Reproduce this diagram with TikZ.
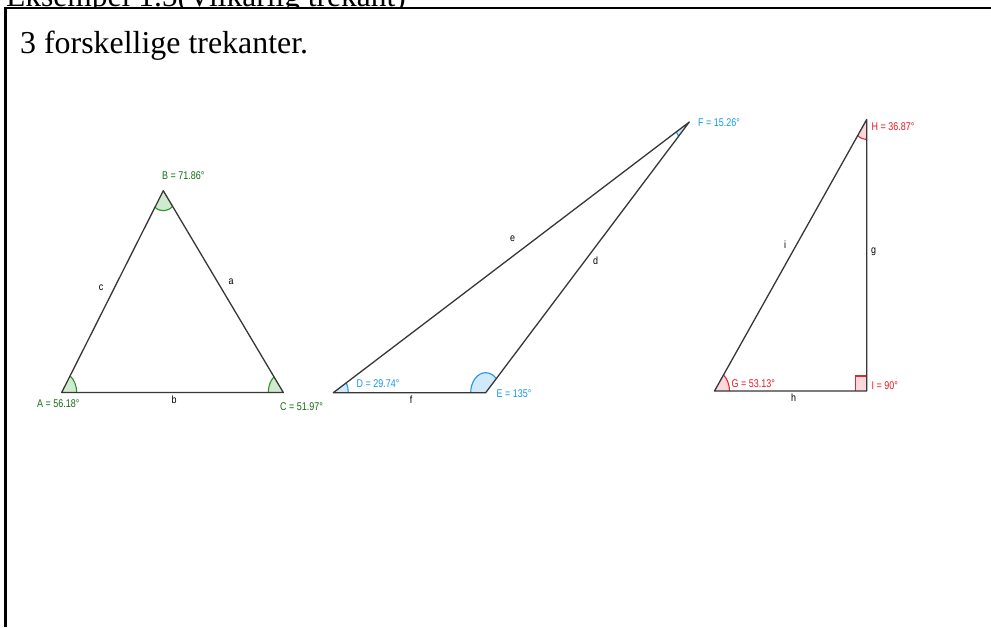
\documentclass[tikz,border=0pt]{standalone}
\usepackage{fontspec}
\setmainfont{Liberation Serif}
\setsansfont{Liberation Sans}
\usepackage{graphicx}
\definecolor{gtext}{RGB}{20,110,20}
\definecolor{garc}{RGB}{40,150,40}
\definecolor{gfill}{RGB}{208,234,208}
\definecolor{btext}{RGB}{20,155,240}
\definecolor{barc}{RGB}{30,150,235}
\definecolor{bfill}{RGB}{208,234,252}
\definecolor{rtext}{RGB}{232,24,36}
\definecolor{rarc}{RGB}{225,40,50}
\definecolor{rfill}{RGB}{252,216,218}
\definecolor{sidecol}{RGB}{55,55,55}
\newcommand{\lbl}[1]{\scalebox{0.8}[1]{\sffamily\fontsize{11.2}{12}\selectfont #1}}
\newcommand{\slbl}[1]{\scalebox{0.85}[1]{\sffamily\fontsize{10.5}{12}\selectfont #1}}
\newcommand{\sectorfill}[4]{\fill[#1] (#2) -- ++(#3:15pt and 20pt) arc[start angle=#3, end angle=#4, x radius=15pt, y radius=20pt] -- cycle;}
\newcommand{\sectorarc}[4]{\draw[#1, line width=1.1pt] (#2) ++(#3:15pt and 20pt) arc[start angle=#3, end angle=#4, x radius=15pt, y radius=20pt];}
\tikzset{
  sideline/.style={draw=sidecol, line width=1.3pt, line join=round},
  vlabel/.style={anchor=west, inner sep=0pt},
  sidelabel/.style={inner sep=0pt, text=black},
  frameline/.style={draw=black, line width=2.4pt}
}
\begin{document}
\begin{tikzpicture}[x=1pt,y=-1pt]
\useasboundingbox (0,0) rectangle (991,627);
\fill[white] (0,0) rectangle (991,627);
% cut-off heading above the frame
\begin{scope}
\clip (0,0) rectangle (991,7);
\node[anchor=base west, inner sep=0pt, font=\fontsize{31.5}{34}\selectfont] (head) at (6,6) {Eksempel 1.5(Vilkårlig trekant)};
\end{scope}
% frame
\coordinate (fTL) at (5.5,8);
\coordinate (fTR) at (991,8);
\coordinate (fBL) at (5.5,627);
\draw[frameline] (fBL) -- (fTL) -- (fTR);
\node[anchor=base west, inner sep=0pt, font=\fontsize{31.9}{34}\selectfont] (title) at (20,53) {3 forskellige trekanter.};

% vertices
\coordinate (A) at (61.7,392.5);
\coordinate (B) at (163.3,190.7);
\coordinate (C) at (283.3,392.5);
\coordinate (D) at (333.3,392.7);
\coordinate (E) at (485.7,392.7);
\coordinate (F) at (689.3,122);
\coordinate (G) at (714.5,391);
\coordinate (I) at (866.7,391);
\coordinate (H) at (866.7,119.5);

% sector fills
\sectorfill{gfill}{A}{0}{56.18}
\sectorfill{gfill}{B}{236.18}{308.03}
\sectorfill{gfill}{C}{128.03}{180}
\sectorfill{bfill}{D}{0}{29.74}
\sectorfill{bfill}{E}{45}{180}
\sectorfill{bfill}{F}{209.74}{225}
\sectorfill{rfill}{G}{0}{53.13}
\sectorfill{rfill}{H}{233.13}{270}
\fill[rfill] (I) rectangle ++(-11.5,-15);
% sector arcs
\sectorarc{garc}{A}{0}{56.18}
\sectorarc{garc}{B}{236.18}{308.03}
\sectorarc{garc}{C}{128.03}{180}
\sectorarc{barc}{D}{0}{29.74}
\sectorarc{barc}{E}{45}{180}
\sectorarc{barc}{F}{209.74}{225}
\sectorarc{rarc}{G}{0}{53.13}
\sectorarc{rarc}{H}{233.13}{270}
\draw[rarc, line width=1.1pt] (I) ++(-11.5,0) -- ++(0,-15) -- ++(11.5,0);

% sides
\draw[sideline] (A) -- (B) -- (C) -- cycle;
\draw[sideline] (D) -- (E) -- (F) -- cycle;
\draw[sideline] (G) -- (I) -- (H) -- cycle;

% angle labels
\node[vlabel, text=gtext] (lA) at (37,404) {\lbl{A = 56.18°}};
\node[vlabel, text=gtext] (lB) at (162,176) {\lbl{B = 71.86°}};
\node[vlabel, text=gtext] (lC) at (280,407) {\lbl{C = 51.97°}};
\node[vlabel, text=btext] (lD) at (356.5,384) {\lbl{D = 29.74°}};
\node[vlabel, text=btext] (lE) at (496.5,393.5) {\lbl{E = 135°}};
\node[vlabel, text=btext] (lF) at (698,122.5) {\lbl{F = 15.26°}};
\node[vlabel, text=rtext] (lG) at (731.5,384) {\lbl{G = 53.13°}};
\node[vlabel, text=rtext] (lH) at (871.5,126.5) {\lbl{H = 36.87°}};
\node[vlabel, text=rtext] (lI) at (871.5,386) {\lbl{I = 90°}};

% side labels
\node[sidelabel] (sa) at (231,282) {\slbl{a}};
\node[sidelabel] (sb) at (174,400) {\slbl{b}};
\node[sidelabel] (sc) at (101,288) {\slbl{c}};
\node[sidelabel] (sd) at (595.5,261) {\slbl{d}};
\node[sidelabel] (se) at (512.5,238.5) {\slbl{e}};
\node[sidelabel] (sf) at (411,400) {\slbl{f}};
\node[sidelabel] (sg) at (873.5,251.5) {\slbl{g}};
\node[sidelabel] (sh) at (793.5,397.5) {\slbl{h}};
\node[sidelabel] (si) at (785,245) {\slbl{i}};
\end{tikzpicture}
\end{document}
